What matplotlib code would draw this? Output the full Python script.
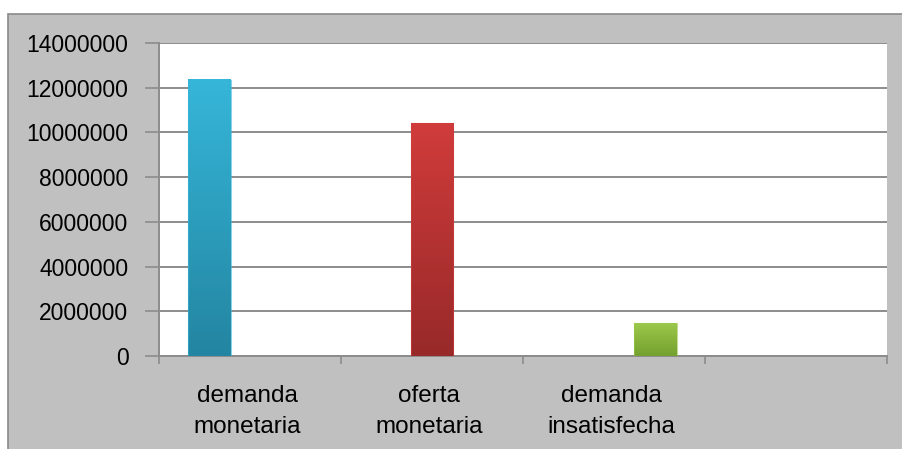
import matplotlib.pyplot as plt
import numpy as np
from matplotlib.patches import Rectangle
from matplotlib.colors import LinearSegmentedColormap

# Valores por serie (cada serie solo tiene valor en su propia categoría)
categorias = ['demanda\nmonetaria', 'oferta\nmonetaria', 'demanda\ninsatisfecha', '']
series = ['demanda monetaria', 'oferta monetaria', 'demanda insatisfecha']
valores = [12350000, 10400000, 1470000]
yticks = [0, 2000000, 4000000, 6000000, 8000000, 10000000, 12000000, 14000000]

# Colores (arriba, abajo) del degradado de cada barra
colores = [('#36b6d9', '#2385a1'), ('#d03c3b', '#982929'), ('#9cc84b', '#74a02f')]
desplaz = [-0.225, 0.0, 0.228]
ancho = 0.236

plt.rcParams['font.family'] = ['Liberation Sans', 'DejaVu Sans']

fig = plt.figure(figsize=(9.03, 4.49), dpi=100, facecolor='white')
# Fondo gris del área del gráfico con su borde
fig.patches.append(Rectangle((8 / 903, -0.01), 1.0, (449 - 14) / 449 + 0.01,
                             transform=fig.transFigure, facecolor='#c0c0c0',
                             edgecolor='#8a8a8a', linewidth=1.2, zorder=-10))

ax = fig.add_axes([159 / 903, 93 / 449, 728 / 903, 313 / 449])
ax.set_facecolor('white')

for i, v in enumerate(valores):
    x0 = i + desplaz[i] - ancho / 2
    cmap = LinearSegmentedColormap.from_list('g%d' % i, [colores[i][1], colores[i][0]])
    grad = np.linspace(0, 1, 256).reshape(-1, 1)
    ax.imshow(grad, extent=(x0, x0 + ancho, 0, v), origin='lower', aspect='auto',
              cmap=cmap, zorder=3)
    ax.add_patch(Rectangle((x0, 0), ancho, v, facecolor='none',
                           edgecolor=colores[i][0], linewidth=0.8, alpha=0.6, zorder=4))

ax.set_xlim(-0.5, 3.5)
ax.set_ylim(0, 14000000)
ax.set_yticks(yticks)
ax.set_yticklabels([str(t) for t in yticks], fontsize=16.5)
ax.yaxis.grid(True, color='#8c8c8c', linewidth=1.4)
ax.set_axisbelow(True)

# Marcas en los límites de categoría, etiquetas aparte
ax.set_xticks(np.arange(-0.5, 4.0, 1.0))
ax.set_xticklabels([])
ax.set_xticks(np.arange(3) - 0.015, minor=True)
ax.set_xticklabels(categorias[:3], minor=True, fontsize=17.5, linespacing=1.52)
ax.tick_params(axis='x', which='major', length=6, color='#8c8c8c', width=1.2)
ax.tick_params(axis='x', which='minor', length=0, pad=21)
ax.tick_params(axis='y', length=10, color='#8c8c8c', width=1.2, pad=12)

for s in ['top', 'right']:
    ax.spines[s].set_visible(False)
for s in ['left', 'bottom']:
    ax.spines[s].set_color('#8c8c8c')
    ax.spines[s].set_linewidth(1.4)

fig.savefig('out.png', dpi=100, facecolor=fig.get_facecolor())
